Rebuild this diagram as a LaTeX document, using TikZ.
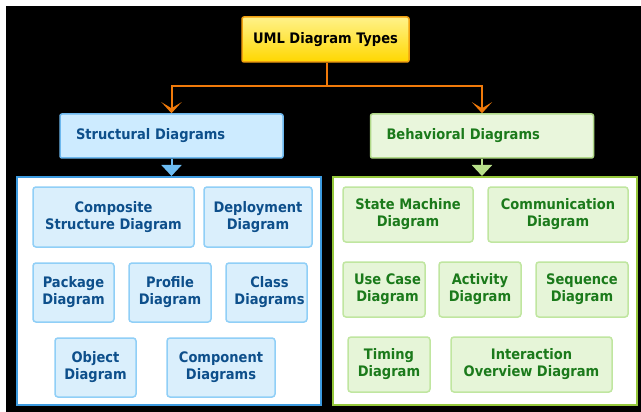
\documentclass[tikz,border=0pt]{standalone}
\usepackage{fontspec}
\setmainfont{DejaVu Sans Condensed}
\usetikzlibrary{arrows.meta}
\definecolor{orangeline}{HTML}{F07A0A}
\definecolor{topborder}{HTML}{F0A010}
\definecolor{stfill}{HTML}{CDEBFF}
\definecolor{stborder}{HTML}{6DB8EE}
\definecolor{sttext}{HTML}{0D4F8B}
\definecolor{bhfill}{HTML}{E9F6DC}
\definecolor{bhborder}{HTML}{B0D888}
\definecolor{bhtext}{HTML}{1B7A1B}
\definecolor{lcborder}{HTML}{3D9BE0}
\definecolor{rcborder}{HTML}{96C83C}
\definecolor{libfill}{HTML}{DAEFFC}
\definecolor{libborder}{HTML}{90CFF7}
\definecolor{ribfill}{HTML}{E6F5D8}
\definecolor{ribborder}{HTML}{C0E6A0}
\definecolor{stline}{HTML}{6CBCF2}
\definecolor{bhline}{HTML}{B8E08A}
\tikzset{
  every node/.style={font=\bfseries\fontsize{14.5}{17}\selectfont, inner sep=0pt, align=center},
  topbox/.style={draw=topborder, line width=1.5pt, rounded corners=2pt, top color=yellow!40!white!90!orange, bottom color={rgb,255:red,255;green,215;blue,0}, text=black, minimum width=167pt, minimum height=45pt},
  headbox/.style={line width=1.5pt, rounded corners=2pt, minimum height=44pt, align=left, inner xsep=16pt, text width=191pt},
  stbox/.style={headbox, draw=stborder, fill=stfill, text=sttext},
  bhbox/.style={headbox, draw=bhborder, fill=bhfill, text=bhtext},
  lcont/.style={draw=lcborder, fill=white, line width=2pt, minimum width=304pt, minimum height=228pt},
  rcont/.style={draw=rcborder, fill=white, line width=2pt, minimum width=304pt, minimum height=228pt},
  libox/.style={draw=libborder, fill=libfill, line width=1.5pt, rounded corners=3pt, text=sttext},
  ribox/.style={draw=ribborder, fill=ribfill, line width=1.5pt, rounded corners=3pt, text=bhtext},
  orangearrow/.style={draw=orangeline, line width=2pt, -{Stealth[length=11pt,width=20pt,inset=6pt]}},
  starrow/.style={draw=stline, line width=2pt, -{Triangle[length=11pt,width=20pt]}},
  bharrow/.style={draw=bhline, line width=2pt, -{Triangle[length=11pt,width=20pt]}},
}
\begin{document}
\begin{tikzpicture}[x=1pt,y=-1pt]
\useasboundingbox (0,0) rectangle (641,412);
\fill[white] (0,0) rectangle (641,412);
\fill[black] (6,6) rectangle (641,412);

\node[topbox] (top) at (325.5,39.5) {UML Diagram Types};
\node[stbox] (st) at (171.5,136) {Structural Diagrams};
\node[bhbox] (bh) at (482,136) {Behavioral Diagrams};

\coordinate (mid) at (327,86);
\draw[orangeline, line width=2pt] (top.south -| mid) -- (mid);
\draw[orangearrow] (mid) -| (st.north);
\draw[orangearrow] (mid) -| (bh.north);

\node[lcont] (lc) at (169,291) {};
\node[rcont] (rc) at (485,291) {};

\draw[starrow] (st.south) -- (st.south |- lc.north);
\draw[bharrow] (bh.south) -- (bh.south |- rc.north);

% left inner boxes
\node[libox, minimum width=161pt, minimum height=60pt] (comp) at (113.5,217) {Composite\\Structure Diagram};
\node[libox, minimum width=108pt, minimum height=60pt] (depl) at (258,217) {Deployment\\Diagram};
\node[libox, minimum width=81pt, minimum height=59pt] (pack) at (73.5,292.5) {Package\\Diagram};
\node[libox, minimum width=82pt, minimum height=59pt] (prof) at (170,292.5) {Profile\\Diagram};
\node[libox, minimum width=81pt, minimum height=59pt] (class) at (266.5,292.5) {};
\node[text=sttext] (classtext) at (269.5,292.5) {Class\\Diagrams};
\node[libox, minimum width=81pt, minimum height=59pt] (obj) at (95.5,367.5) {Object\\Diagram};
\node[libox, minimum width=108pt, minimum height=59pt] (compo) at (221,367.5) {Component\\Diagrams};

% right inner boxes
\node[ribox, minimum width=130pt, minimum height=55pt] (state) at (408,214.5) {State Machine\\Diagram};
\node[ribox, minimum width=140pt, minimum height=55pt] (comm) at (558,214.5) {Communication\\Diagram};
\node[ribox, minimum width=82pt, minimum height=55pt] (usec) at (384,289.5) {};
\node[text=bhtext] (usectext) at (387.5,289.5) {Use Case\\Diagram};
\node[ribox, minimum width=82pt, minimum height=55pt] (act) at (480,289.5) {Activity\\Diagram};
\node[ribox, minimum width=92pt, minimum height=55pt] (seq) at (582,289.5) {Sequence\\Diagram};
\node[ribox, minimum width=82pt, minimum height=55pt] (tim) at (389,364.5) {Timing\\Diagram};
\node[ribox, minimum width=161pt, minimum height=55pt] (inter) at (531.5,364.5) {Interaction\\Overview Diagram};
\end{tikzpicture}
\end{document}
